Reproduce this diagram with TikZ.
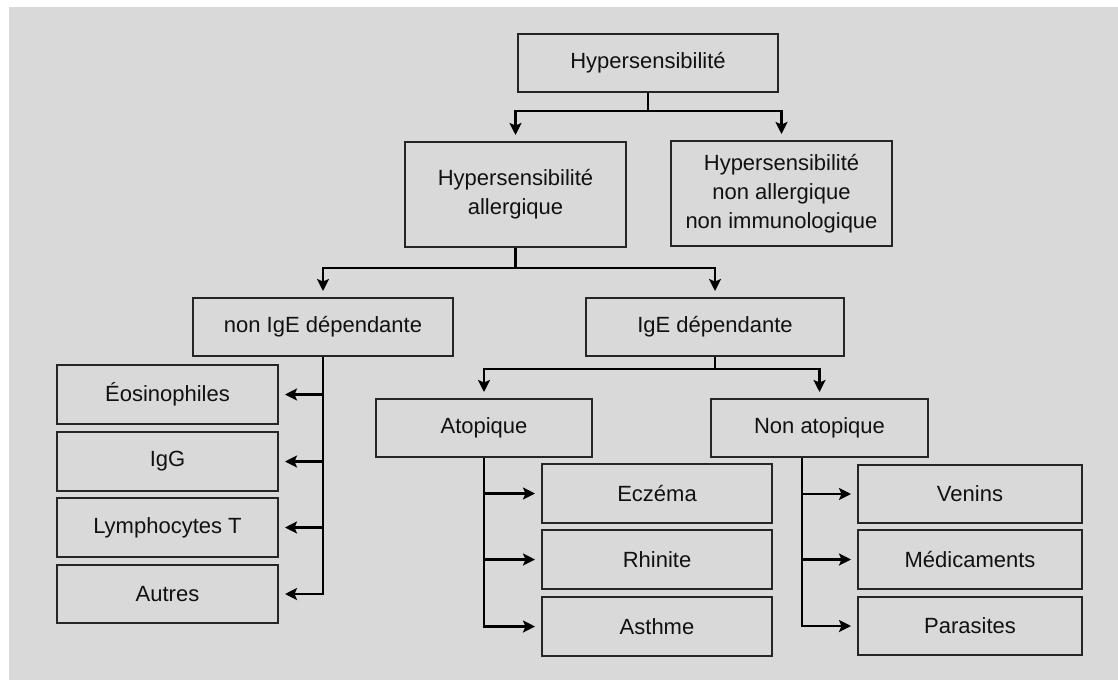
\documentclass[tikz,border=0pt]{standalone}
\usepackage{fontspec}
\setmainfont{Liberation Sans}
\usetikzlibrary{arrows.meta}
\definecolor{bg}{HTML}{D9D9D9}
\definecolor{ink}{HTML}{111111}
\definecolor{edge}{HTML}{262626}
\begin{document}
\begin{tikzpicture}[x=1pt,y=-1pt,
  box/.style={draw=edge, line width=2pt, fill=bg, inner sep=0pt, text=ink,
    font=\fontsize{22}{29}\selectfont, align=center},
  big/.style={box, minimum width=221pt, minimum height=105pt},
  wide/.style={box, minimum width=260pt, minimum height=58pt},
  conn/.style={draw=black, line width=2.6pt, -{Stealth[length=12pt,width=12pt,inset=2.5pt]}, shorten >=6pt}]
\useasboundingbox (0,0) rectangle (1118,680);
\fill[bg] (9,7) rectangle (1118,680);

\node[wide] (hyp) at (648,63) {Hypersensibilité};
\node[big] (all) at (515.5,194.5) {Hypersensibilité\\allergique};
\node[big] (nall) at (781.5,193.5) {Hypersensibilité\\non allergique\\non immunologique};

\node[wide] (nige) at (323,327) {non IgE dépendante};
\node[box, minimum width=258pt, minimum height=58pt] (ige) at (715,327) {IgE dépendante};

\node[box, minimum width=221pt, minimum height=59pt] (eos) at (167.5,394.5) {Éosinophiles};
\node[box, minimum width=221pt, minimum height=59pt] (igg) at (167.5,461.5) {IgG};
\node[box, minimum width=221pt, minimum height=59pt] (lym) at (167.5,527.5) {Lymphocytes T};
\node[box, minimum width=221pt, minimum height=58pt] (aut) at (167.5,594) {Autres};

\node[box, minimum width=216pt, minimum height=58pt] (atop) at (484,428) {Atopique};
\node[box, minimum width=217pt, minimum height=58pt] (natop) at (819.5,428) {Non atopique};

\node[box, minimum width=230pt, minimum height=59pt] (ecz) at (657,493.5) {Eczéma};
\node[box, minimum width=230pt, minimum height=59pt] (rhi) at (657,559.5) {Rhinite};
\node[box, minimum width=230pt, minimum height=59pt] (ast) at (657,626.5) {Asthme};

\node[box, minimum width=224pt, minimum height=58pt] (ven) at (970,494) {Venins};
\node[box, minimum width=224pt, minimum height=59pt] (med) at (970,559.5) {Médicaments};
\node[box, minimum width=224pt, minimum height=58pt] (par) at (970,626) {Parasites};

\draw[conn] (hyp.south) -- ++(0,18) -| (all.north);
\draw[conn] (hyp.south) -- ++(0,18) -| (nall.north);

\draw[conn] (all.south) -- ++(0,20) -| (nige.north);
\draw[conn] (all.south) -- ++(0,20) -| (ige.north);

\draw[conn] (nige.south) |- (eos.east);
\draw[conn] (nige.south) |- (igg.east);
\draw[conn] (nige.south) |- (lym.east);
\draw[conn] (nige.south) |- (aut.east);

\draw[conn] (ige.south) -- ++(0,12) -| (atop.north);
\draw[conn] (ige.south) -- ++(0,12) -| (natop.north);

\draw[conn] (atop.south) |- (ecz.west);
\draw[conn] (atop.south) |- (rhi.west);
\draw[conn] (atop.south) |- (ast.west);

\draw[conn] ([xshift=-17.5pt]natop.south) |- (ven.west);
\draw[conn] ([xshift=-17.5pt]natop.south) |- (med.west);
\draw[conn] ([xshift=-17.5pt]natop.south) |- (par.west);
\end{tikzpicture}
\end{document}
